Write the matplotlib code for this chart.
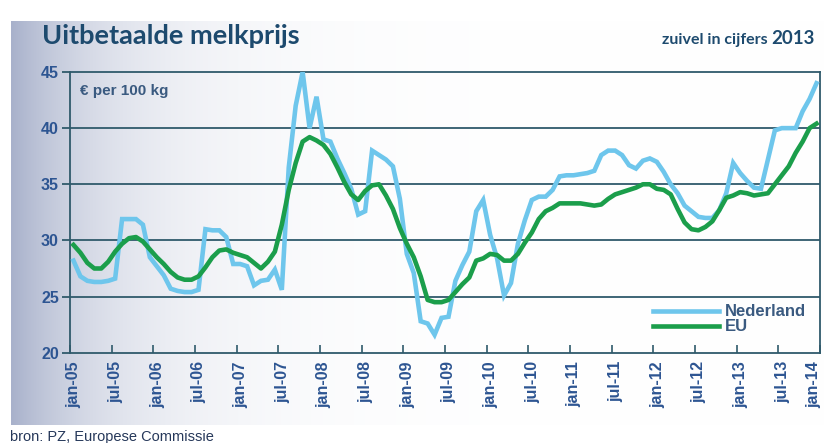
"""Uitbetaalde melkprijs: Nederland vs EU, jan 2005 - dec 2013."""

import matplotlib

matplotlib.use("Agg")
import matplotlib.pyplot as plt
import matplotlib.transforms as mtransforms
import numpy as np

# monthly milk price, euro per 100 kg, jan-05 .. dec-13
nederland = [
    28.2, 26.8, 26.4, 26.3, 26.3, 26.4, 26.6, 31.9, 31.9, 31.9, 31.4, 28.5,
    27.7, 26.9, 25.7, 25.5, 25.4, 25.4, 25.6, 31.0, 30.9, 30.9, 30.3, 27.9,
    27.9, 27.7, 26.0, 26.4, 26.5, 27.4, 25.6, 36.5, 42.0, 45.0, 40.0, 42.8,
    39.0, 38.8, 37.3, 36.0, 34.6, 32.3, 32.6, 38.0, 37.6, 37.2, 36.6, 33.7,
    28.8, 27.1, 22.8, 22.6, 21.6, 23.1, 23.2, 26.4, 27.8, 29.0, 32.6, 33.6,
    30.5, 28.4, 25.1, 26.2, 29.7, 31.8, 33.6, 33.9, 33.9, 34.5, 35.7, 35.8,
    35.8, 35.9, 36.0, 36.2, 37.6, 38.0, 38.0, 37.6, 36.7, 36.4, 37.1, 37.3,
    37.0, 36.1, 35.0, 34.2, 33.1, 32.6, 32.1, 32.0, 32.0, 32.7, 34.2, 36.9,
    36.0, 35.3, 34.7, 34.6, 37.2, 39.8, 40.0, 40.0, 40.0, 41.5, 42.6, 44.0,
]
eu = [
    29.6, 28.9, 28.0, 27.5, 27.5, 28.1, 29.0, 29.7, 30.2, 30.3, 29.9, 29.2,
    28.5, 27.9, 27.2, 26.7, 26.5, 26.5, 26.8, 27.6, 28.5, 29.1, 29.2, 28.9,
    28.7, 28.5, 28.0, 27.5, 28.1, 29.0, 31.4, 34.5, 36.9, 38.8, 39.2, 38.9,
    38.5, 37.7, 36.5, 35.2, 34.1, 33.6, 34.4, 34.9, 35.0, 34.0, 32.8, 31.1,
    29.7, 28.5, 26.8, 24.7, 24.5, 24.5, 24.7, 25.4, 26.1, 26.7, 28.2, 28.4,
    28.8, 28.7, 28.2, 28.2, 28.8, 29.8, 30.7, 31.9, 32.6, 32.9, 33.3, 33.3,
    33.3, 33.3, 33.2, 33.1, 33.2, 33.7, 34.1, 34.3, 34.5, 34.7, 35.0, 35.0,
    34.6, 34.5, 34.1, 32.8, 31.6, 31.0, 30.9, 31.2, 31.7, 32.7, 33.8, 34.0,
    34.3, 34.2, 34.0, 34.1, 34.2, 35.0, 35.8, 36.6, 37.8, 38.8, 40.0, 40.4,
]
tick_labels = [
    "jan-05", "jul-05", "jan-06", "jul-06", "jan-07", "jul-07", "jan-08",
    "jul-08", "jan-09", "jul-09", "jan-10", "jul-10", "jan-11", "jul-11",
    "jan-12", "jul-12", "jan-13", "jul-13", "jan-14",
]
y_ticks = [20, 25, 30, 35, 40, 45]

# colours
C_NL = "#6ec6ec"
C_EU = "#1b9e4b"
C_FRAME = "#2f5a6b"
C_TITLE = "#1d4a6e"
C_LABEL = "#2d5592"
C_TEXT = "#3a5a80"

W, H = 824, 443
fig = plt.figure(figsize=(W / 100, H / 100), dpi=100)
fig.patch.set_facecolor("white")

# gradient backdrop panel (blue-grey on the left, fading to white)
bg = fig.add_axes([11 / W, 1 - 425 / H, 1 - 11 / W, (425 - 21) / H], zorder=-5)
bg.set_axis_off()
xs = np.arange(W - 11)
fade = np.exp(-xs / 105.0)
edge = np.array([168, 177, 203]) / 255.0
row = 1 - (1 - edge)[None, :] * fade[:, None]
img = np.repeat(row[None, :, :], 10, axis=0)
bg.imshow(img, aspect="auto", extent=(0, 1, 0, 1), interpolation="bilinear")

# main plot area
ax = fig.add_axes([70 / W, 1 - 352.7 / H, 750 / W, (352.7 - 72) / H])
ax.set_facecolor("none")

x = np.arange(len(nederland)) + 0.5
ax.plot(x, nederland, color=C_NL, lw=3.3, solid_joinstyle="miter", label="Nederland", zorder=3)
ax.plot(x, eu, color=C_EU, lw=3.3, solid_joinstyle="round", label="EU", zorder=4)

ax.set_xlim(0, 108)
ax.set_ylim(20, 45)

for v in y_ticks[1:-1]:
    ax.axhline(v, color=C_FRAME, lw=1.3, zorder=1)
for side in ["left", "right", "top", "bottom"]:
    ax.spines[side].set_color(C_FRAME)
    ax.spines[side].set_linewidth(1.3)

ax.set_xticks(np.arange(0, 109, 6))
ax.set_xticklabels(tick_labels, rotation=90, fontsize=11.5, fontweight="bold",
                   color=C_LABEL, family="Liberation Sans")
ax.tick_params(axis="x", direction="in", length=6, width=1.2, color=C_FRAME, pad=6)
xlabels = ax.get_xticklabels()
for k, lab in enumerate(xlabels):
    dx = 4 if k < len(xlabels) - 1 else -6
    shift = mtransforms.ScaledTranslation(dx / 100, 0, fig.dpi_scale_trans)
    lab.set_transform(lab.get_transform() + shift)

ax.set_yticks(y_ticks)
ax.set_yticklabels([str(v) for v in y_ticks], fontsize=11.5, fontweight="bold",
                   color=C_LABEL, family="Liberation Sans")
ax.tick_params(axis="y", direction="out", length=6, width=1.3, color=C_FRAME, pad=2)

ax.text(0.013, 0.932, "€ per 100 kg", transform=ax.transAxes, fontsize=11,
        fontweight="bold", color=C_TEXT, va="center", ha="left", family="Liberation Sans")

leg = ax.legend(loc="upper left", bbox_to_anchor=(0.777, 0.172), frameon=False,
                borderpad=0, borderaxespad=0, handlelength=4.0, handletextpad=0.35,
                labelspacing=0.0,
                prop={"family": "Liberation Sans", "weight": "bold", "size": 12})
for t in leg.get_texts():
    t.set_color(C_TEXT)

# titles
fig.text(42 / W, 1 - 44 / H, "Uitbetaalde melkprijs", fontsize=19.5, fontweight="bold",
         family="Lato", color=C_TITLE, ha="left", va="baseline")
t_year = fig.text(815 / W, 1 - 44 / H, "2013", fontsize=13.5, fontweight="bold",
                  family="Lato", color=C_TITLE, ha="right", va="baseline")
fig.canvas.draw()
bb = t_year.get_window_extent()
fig.text((bb.x0 - 4) / W, 1 - 44 / H, "zuivel in cijfers", fontsize=11.5, fontweight="bold",
         family="Lato", color=C_TITLE, ha="right", va="baseline")

fig.text(10 / W, 1 - 437 / H, "bron: PZ, Europese Commissie", fontsize=10.5,
         family="Liberation Sans", color="#26385a", ha="left", va="center")

fig.savefig("out.png", dpi=100)
